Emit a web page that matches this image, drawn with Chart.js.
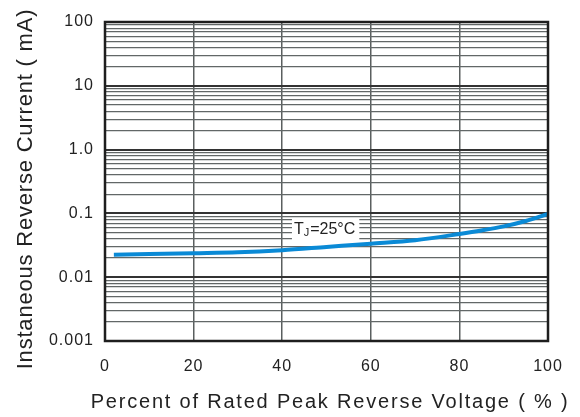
<!DOCTYPE html>
<html>
<head>
<meta charset="utf-8">
<script src="https://cdn.jsdelivr.net/npm/chart.js@4"></script>
<style>
  html, body { margin: 0; padding: 0; background: #fff; }
  #wrap { width: 580px; height: 417px; }
</style>
</head>
<body>
<div id="wrap"><canvas id="chart"></canvas></div>
<script>
// data
const voltagePct = [2, 10, 20, 30, 40, 50, 60, 70, 80, 85, 90, 95, 100];
const currentMA = [0.0225, 0.023, 0.0237, 0.0245, 0.0265, 0.0298, 0.0335, 0.038, 0.0476, 0.054, 0.0626, 0.076, 0.098];
const xTicks = [0, 20, 40, 60, 80, 100];
const yDecades = [0.001, 0.01, 0.1, 1, 10, 100];
const yTickLabels = ['0.001', '0.01', '0.1', '1.0', '10', '100'];
const xTitle = 'Percent of Rated Peak Reverse Voltage ( % )';
const yTitle = 'Instaneous Reverse Current ( mA)';
const curveLabel = 'T=25°C';

const font = 'Liberation Sans, Arial, sans-serif';
const textColor = '#222';

const isDecade = v => yDecades.some(d => Math.abs(v / d - 1) < 1e-6);

const frame = {
  id: 'frame',
  beforeDraw(chart) {
    // reference text is slightly spaced out
    chart.ctx.letterSpacing = '1px';
  },
  afterDatasetsDraw(chart) {
    const { ctx, scales: { x, y } } = chart;
    // T_J label with white box
    const cx = x.getPixelForValue(42.2);
    const cy = y.getPixelForValue(0.056);
    ctx.save();
    ctx.letterSpacing = '0px';
    ctx.font = '16px ' + font;
    const w1 = ctx.measureText('T').width;
    ctx.font = '11px ' + font;
    const w2 = ctx.measureText('J').width;
    ctx.font = '16px ' + font;
    const w3 = ctx.measureText('=25°C').width;
    const total = w1 + w2 + w3;
    ctx.fillStyle = '#fff';
    ctx.fillRect(cx, cy - 11, total + 7, 22);
    ctx.fillStyle = textColor;
    ctx.textBaseline = 'middle';
    ctx.font = '16px ' + font;
    ctx.fillText('T', cx + 2, cy);
    ctx.font = '11px ' + font;
    ctx.fillText('J', cx + 2 + w1, cy + 4);
    ctx.font = '16px ' + font;
    ctx.fillText('=25°C', cx + 3 + w1 + w2, cy);
    ctx.restore();
  },
  afterDraw(chart) {
    const { ctx, chartArea: a } = chart;
    ctx.save();
    ctx.strokeStyle = '#1e1e1e';
    ctx.lineWidth = 2.5;
    ctx.strokeRect(a.left, a.top, a.right - a.left, a.bottom - a.top);

    // axis titles
    ctx.fillStyle = textColor;
    ctx.textAlign = 'center';
    ctx.textBaseline = 'alphabetic';
    ctx.font = '20px ' + font;
    ctx.letterSpacing = '1.8px';
    ctx.fillText(xTitle, 330, 408);

    ctx.translate(32, 189);
    ctx.rotate(-Math.PI / 2);
    ctx.font = '22px ' + font;
    ctx.letterSpacing = '0.8px';
    ctx.fillText(yTitle, 0, 0);
    ctx.restore();
  }
};

new Chart(document.getElementById('chart'), {
  type: 'line',
  data: {
    datasets: [{
      label: curveLabel,
      data: voltagePct.map((v, i) => ({ x: v, y: currentMA[i] })),
      borderColor: '#0a8ad6',
      borderWidth: 4,
      pointRadius: 0,
      cubicInterpolationMode: 'monotone',
      fill: false,
    }],
  },
  options: {
    responsive: true,
    maintainAspectRatio: false,
    animation: false,
    layout: { padding: { top: 22, right: 32, left: 0, bottom: 0 } },
    plugins: { legend: { display: false }, tooltip: { enabled: false } },
    scales: {
      x: {
        type: 'linear',
        min: 0,
        max: 100,
        afterBuildTicks: s => { s.ticks = xTicks.map(v => ({ value: v })); },
        afterFit: s => { s.height = 76; },
        grid: { color: '#5a5f5f', lineWidth: 1.5, drawTicks: false },
        border: { display: false },
        ticks: { color: textColor, font: { family: font, size: 16 }, padding: 16 },
      },
      y: {
        type: 'logarithmic',
        min: 0.001,
        max: 100,
        afterBuildTicks: s => {
          const t = [];
          yDecades.forEach((d, i) => {
            if (i === yDecades.length - 1) { t.push({ value: d }); return; }
            for (let k = 1; k <= 9; k++) t.push({ value: d * k });
          });
          s.ticks = t;
        },
        afterFit: s => { s.width = 105; },
        grid: {
          drawTicks: false,
          color: c => isDecade(c.tick.value) ? '#333' : '#626767',
          lineWidth: c => isDecade(c.tick.value) ? 2 : 1.2,
        },
        border: { display: false },
        ticks: {
          autoSkip: false,
          color: textColor,
          font: { family: font, size: 16 },
          padding: 11,
          callback: v => {
            const i = yDecades.findIndex(d => Math.abs(v / d - 1) < 1e-6);
            return i >= 0 ? yTickLabels[i] : '';
          },
        },
      },
    },
  },
  plugins: [frame],
});
</script>
</body>
</html>
